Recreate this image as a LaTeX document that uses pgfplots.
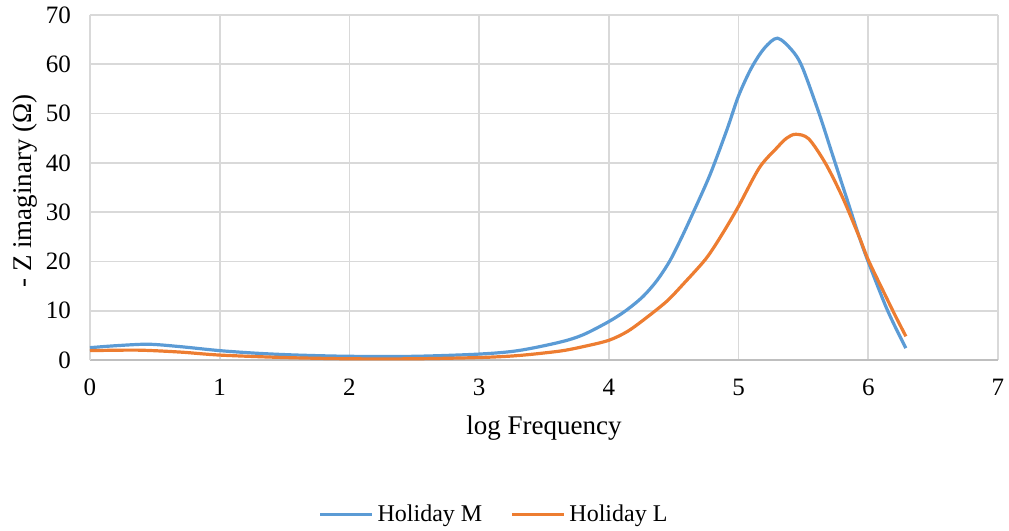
\documentclass[border=0pt]{standalone}
\usepackage{fontspec}
\setmainfont{Liberation Serif}
\usepackage{pgfplots}
\pgfplotsset{compat=1.18}
\definecolor{cblue}{HTML}{5B9BD5}
\definecolor{corange}{HTML}{ED7D31}
\definecolor{gridc}{HTML}{D9D9D9}
\definecolor{axisc}{HTML}{BFBFBF}
\begin{document}
\begin{tikzpicture}
\path[use as bounding box] (-45pt,-85.5pt) rectangle (459.5pt,180pt);
\begin{axis}[
  at={(0,0)}, anchor=south west,
  scale only axis, width=454pt, height=172.5pt,
  xmin=0, xmax=7, ymin=0, ymax=70,
  xtick={0,1,...,7}, ytick={0,10,...,70},
  grid=major, major grid style={gridc, line width=0.9pt},
  major tick length=0pt,
  axis x line*=bottom, axis y line*=left,
  x axis line style={axisc, line width=1pt, -},
  y axis line style={gridc, line width=0.9pt, -},
  /pgf/number format/assume math mode=true,
  tick label style={font=\fontsize{12.5}{14}\selectfont, black},
  xticklabel style={yshift=-6pt},
  yticklabel style={xshift=-6pt},
  xlabel={log Frequency},
  ylabel={- Z imaginary (Ω)},
  label style={font=\fontsize{13.5}{15}\selectfont},
  xlabel style={at={(axis description cs:0.5,-0.197)}, anchor=center},
  ylabel style={at={(axis description cs:-0.0716,0.49)}, anchor=center, rotate=0},
  legend columns=2,
  legend style={at={(axis description cs:0.446,-0.449)}, anchor=center, draw=none, fill=none,
    font=\fontsize{12}{14}\selectfont, /tikz/every even column/.append style={column sep=12pt}},
  legend image code/.code={\draw[#1, line width=1.6pt] (0pt,0pt) -- (26pt,0pt);},
  clip=false,
]
\addplot[cblue, line width=1.6pt, smooth, tension=0.5] coordinates {
(0,2.5) (0.2,2.9) (0.45,3.2) (0.7,2.7) (1.0,1.9) (1.3,1.35) (1.6,1.0) (2.0,0.75) (2.5,0.75) (3.0,1.2) (3.3,1.9) (3.62,3.6) (3.8,5.1) (4.0,7.8) (4.13,10.0) (4.26,12.8) (4.37,16.1) (4.47,20.1) (4.56,24.8) (4.65,29.9) (4.78,37.6) (4.91,46.7) (5.0,53.6) (5.1,59.3) (5.2,63.3) (5.3,65.3) (5.41,62.9) (5.49,59.5) (5.62,50.1) (5.72,42.0) (5.83,33.1) (5.93,25.0) (6.0,19.9) (6.13,11.2) (6.21,6.6) (6.29,2.4)
};
\addlegendentry{Holiday M}
\addplot[corange, line width=1.6pt, smooth, tension=0.5] coordinates {
(0,1.9) (0.37,2.0) (0.7,1.6) (1.0,1.0) (1.5,0.5) (2.0,0.25) (2.5,0.25) (3.0,0.5) (3.3,0.9) (3.62,1.8) (3.8,2.7) (4.0,4.0) (4.15,5.9) (4.31,9.0) (4.45,12.0) (4.57,15.3) (4.75,20.6) (4.88,25.8) (5.0,31.2) (5.16,39.0) (5.29,42.9) (5.37,45.0) (5.44,45.8) (5.54,44.9) (5.67,39.9) (5.80,33.1) (5.93,25.0) (6.0,20.3) (6.13,13.2) (6.21,8.9) (6.29,4.8)
};
\addlegendentry{Holiday L}
\end{axis}
\end{tikzpicture}
\end{document}
